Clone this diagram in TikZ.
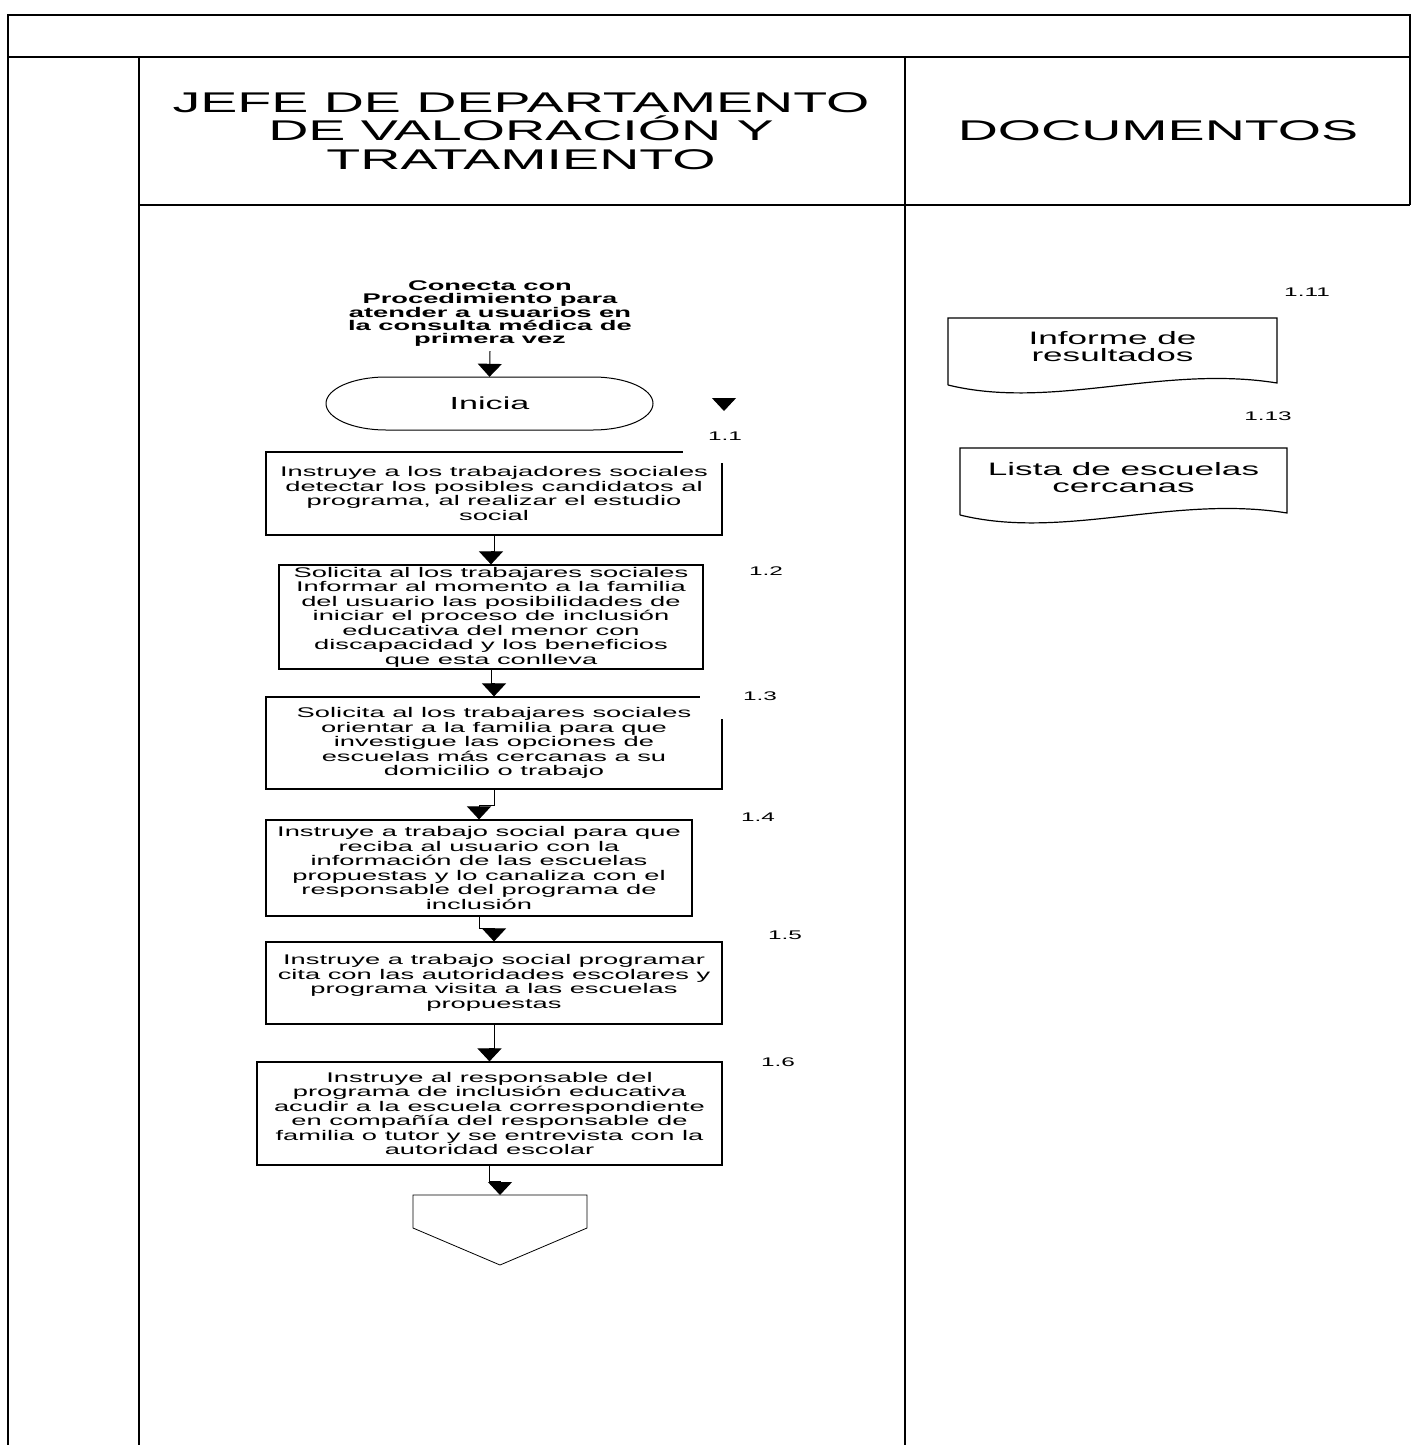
\documentclass[tikz,border=0pt]{standalone}
\usepackage{fontspec}
\setmainfont{Liberation Sans}[FakeStretch=1.95]
\usetikzlibrary{arrows.meta,calc}
\begin{document}
\begin{tikzpicture}[x=1pt,y=-1pt,
  frameline/.style={line width=2pt},
  proc/.style={draw, line width=1.2pt, align=center, inner sep=0pt, font=\fontsize{14}{14.5}\selectfont},
  startbox/.style={inner sep=0pt, minimum width=327pt, minimum height=53pt, font=\fontsize{17.5}{18}\selectfont},
  arr/.style={-{Triangle[width=24pt,length=13pt]}, line width=1pt},
  lbl/.style={font=\fontsize{12.5}{12.5}\selectfont, inner sep=0pt},
  hdr/.style={align=center, inner sep=0pt, font=\fontsize{28.5}{28.5}\selectfont},
  doctext/.style={align=center, inner sep=0pt, font=\fontsize{18}{17.5}\selectfont},
  docshape/.style={line width=1.2pt}
]
\useasboundingbox (0,0) rectangle (1419,1445);
% frame
\draw[frameline] (8,1445) -- (8,15) -- (1410,15) -- (1410,205);
\draw[frameline] (8,57) -- (1410,57);
\draw[frameline] (139,57) -- (139,1445);
\draw[frameline] (905,57) -- (905,1445);
\draw[frameline] (139,205) -- (1410,205);
% headers
\node[hdr] (h1) at (521,131) {JEFE DE DEPARTAMENTO\\DE VALORACIÓN Y\hspace*{72pt}\\TRATAMIENTO};
\node[hdr] (h2) at (1158,131) {DOCUMENTOS};
% start
\node[align=center, inner sep=0pt, font=\bfseries\fontsize{14}{13}\selectfont] (conn) at (490,314) {Conecta con\\Procedimiento para\\atender a usuarios en\\la consulta médica de\\primera vez};
\node[startbox] (ini) at (489.5,403.5) {Inicia};
\draw[line width=1pt] ($(ini.center)+(103.5,-26.5)$) arc[start angle=-90, end angle=90, x radius=60, y radius=26.5]
  -- ($(ini.center)+(-103.5,26.5)$) arc[start angle=90, end angle=270, x radius=60, y radius=26.5] -- cycle;
\draw[arr] (conn.south) ++(0,4) coordinate (c0) -- (ini.north);
\coordinate (s1) at (724,398);
\coordinate (s2) at (724,411);
\draw[arr] (s1) -- (s2);
% process boxes
\node[proc, minimum width=456pt, minimum height=83pt] (b1) at (494,493.5) {Instruye a los trabajadores sociales\\detectar los posibles candidatos al\\programa, al realizar el estudio\\social};
\node[proc, minimum width=424pt, minimum height=104pt] (b2) at (491,617) {Solicita al los trabajares sociales\\Informar al momento a la familia\\del usuario las posibilidades de\\iniciar el proceso de inclusión\\educativa del menor con\\discapacidad y los beneficios\\que esta conlleva};
\node[proc, minimum width=456pt, minimum height=92pt] (b3) at (494,743) {Solicita al los trabajares sociales\\orientar a la familia para que\\investigue las opciones de\\escuelas más cercanas a su\\domicilio o trabajo};
\node[proc, minimum width=426pt, minimum height=96pt] (b4) at (479,868) {Instruye a trabajo social para que\\reciba al usuario con la\\información de las escuelas\\propuestas y lo canaliza con el\\responsable del programa de\\inclusión};
\node[proc, minimum width=456pt, minimum height=82pt] (b5) at (494,983) {Instruye a trabajo social programar\\cita con las autoridades escolares y\\programa visita a las escuelas\\propuestas};
\node[proc, minimum width=465pt, minimum height=103pt] (b6) at (489.5,1113.5) {Instruye al responsable del\\programa de inclusión educativa\\acudir a la escuela correspondiente\\en compañía del responsable de\\familia o tutor y se entrevista con la\\autoridad escolar};
% off-page connector
\coordinate (off) at (500,1195);
\draw[line width=0.8pt] (off) -- ++(87,0) -- ++(0,33) -- ++(-87,37) -- ++(-87,-37) -- ++(0,-33) -- cycle;
% label backgrounds (cover box corners as in the original)
\fill[white] (683,420) rectangle (762,463);
\fill[white] (700,680) rectangle (762,719);
% labels
\node[lbl] (l1) at (725,436) {1.1};
\node[lbl] (l2) at (766,571) {1.2};
\node[lbl] (l3) at (760,696) {1.3};
\node[lbl] (l4) at (758,817) {1.4};
\node[lbl] (l5) at (785,935) {1.5};
\node[lbl] (l6) at (778,1062) {1.6};
% connectors
\draw[arr] (b1.south) -- ($(b1.south)+(0,16)$) -| (b2.north);
\draw[arr] (b2.south) -- ($(b2.south)+(0,14)$) -| (b3.north);
\draw[arr] (b3.south) -- ($(b3.south)+(0,16)$) -| (b4.north);
\draw[arr] (b4.south) -- ($(b4.south)+(0,12)$) -| (b5.north);
\draw[arr] (b5.south) -- ($(b5.south)+(0,24)$) -| (b6.north);
\draw[arr] (b6.south) -- ($(b6.south)+(0,16)$) -| (off);
% documents
\node[doctext] (d1) at (1112.5,346.5) {Informe de\\resultados};
\draw[docshape] ($(d1)+(-164.5,38.5)$) -- ($(d1)+(-164.5,-28.5)$) -- ($(d1)+(164.5,-28.5)$) -- ($(d1)+(164.5,36.5)$) .. controls ($(d1)+(50,18)$) and ($(d1)+(-60,64)$) .. ($(d1)+(-164.5,38.5)$);
\node[doctext] (d2) at (1123.5,477.5) {Lista de escuelas\\cercanas};
\draw[docshape] ($(d2)+(-163.5,37.5)$) -- ($(d2)+(-163.5,-29.5)$) -- ($(d2)+(163.5,-29.5)$) -- ($(d2)+(163.5,35.5)$) .. controls ($(d2)+(50,17)$) and ($(d2)+(-60,63)$) .. ($(d2)+(-163.5,37.5)$);
\node[lbl] (l11) at (1307,292) {1.11};
\node[lbl] (l13) at (1268,416) {1.13};
\end{tikzpicture}
\end{document}
